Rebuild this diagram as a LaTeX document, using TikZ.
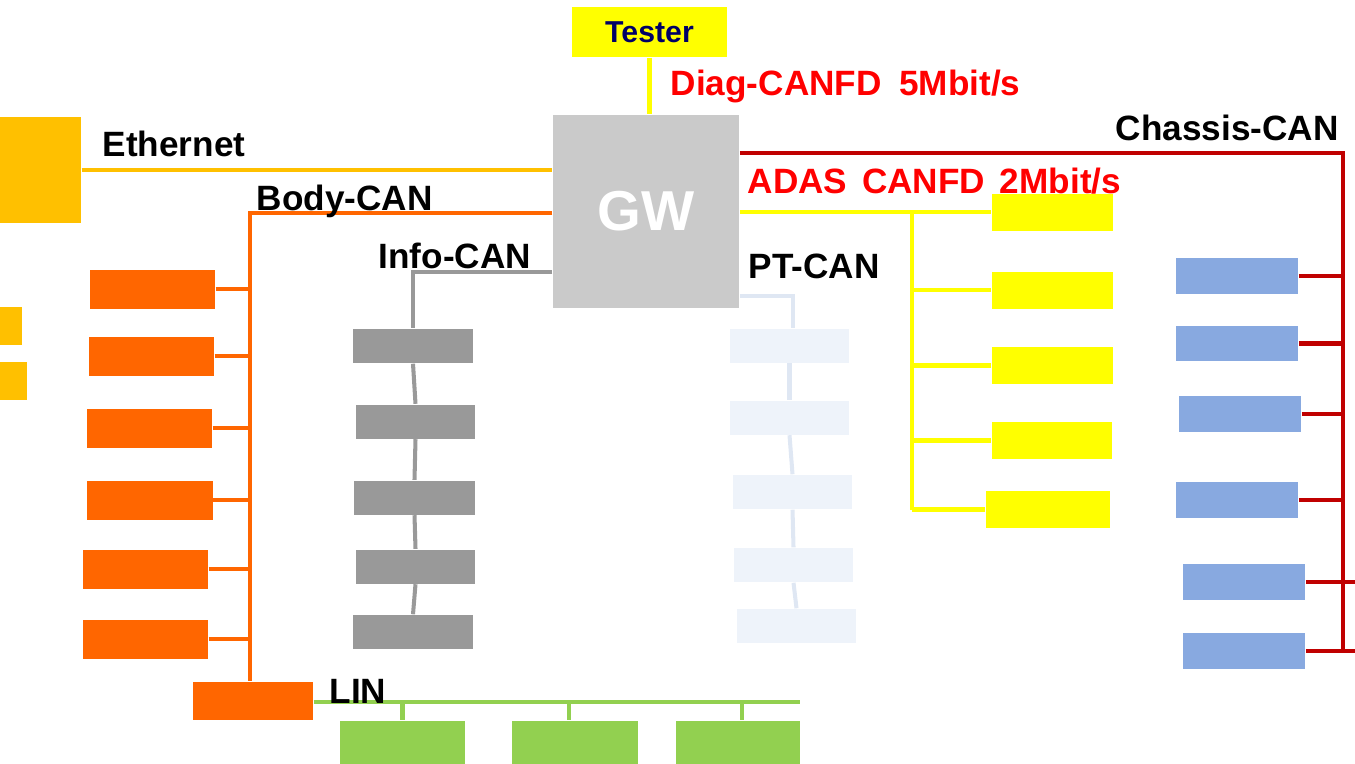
\documentclass[tikz,border=0pt]{standalone}
\usepackage{fontspec}
\setmainfont{Liberation Sans}
\usepackage{tikz}
\usetikzlibrary{positioning,calc}
\definecolor{ethC}{HTML}{FFC000}
\definecolor{bodyC}{HTML}{FF6600}
\definecolor{infoC}{HTML}{999999}
\definecolor{gwC}{HTML}{CACACA}
\definecolor{ptC}{HTML}{EEF3FA}
\definecolor{ptLine}{HTML}{DFE7F3}
\definecolor{adasC}{HTML}{FFFF00}
\definecolor{chasC}{HTML}{C00000}
\definecolor{chasBox}{HTML}{88A9E0}
\definecolor{linC}{HTML}{92D050}
\definecolor{rateC}{HTML}{FF0000}
\definecolor{testerC}{HTML}{000066}

\begin{document}
\begin{tikzpicture}[
  x=0.01cm, y=-0.01cm,
  ecu/.style={inner sep=0pt,minimum width=1.22cm,minimum height=0.37cm},
  body/.style={ecu,fill=bodyC,minimum width=1.25cm,minimum height=0.39cm},
  info/.style={ecu,fill=infoC,minimum width=1.2cm,minimum height=0.34cm},
  pt/.style={ecu,fill=ptC,minimum width=1.19cm,minimum height=0.34cm},
  adas/.style={ecu,fill=adasC,minimum width=1.21cm,minimum height=0.37cm},
  chas/.style={ecu,fill=chasBox,minimum width=1.22cm,minimum height=0.355cm},
  linbox/.style={ecu,fill=linC,minimum width=1.25cm,minimum height=0.5cm},
  lbl/.style={font=\bfseries\fontsize{10}{12}\selectfont,inner sep=0pt,anchor=base west},
  bus/.style={line width=1.15pt},
]
\useasboundingbox (0,0) rectangle (1355,763);
% gateway and tester
\node[fill=gwC,inner sep=0pt,minimum width=1.86cm,minimum height=1.93cm,
      text=white,font=\bfseries\fontsize{16}{18}\selectfont] (gw) at (646,211.5) {GW};
\node[fill=adasC,inner sep=0pt,minimum width=1.55cm,minimum height=0.5cm,
      text=testerC,font=\bfseries\fontsize{8.6}{10}\selectfont] (tester) at (649.5,32) {Tester};
\draw[bus,adasC] (tester.south) -- (tester.south |- gw.north);
% ethernet
\node[fill=ethC,inner sep=0pt,minimum width=0.81cm,minimum height=1.06cm] (eth) at (40.5,170) {};
\node[fill=ethC,inner sep=0pt,minimum width=0.22cm,minimum height=0.38cm] (ethA) at (11,326) {};
\node[fill=ethC,inner sep=0pt,minimum width=0.27cm,minimum height=0.38cm] (ethB) at (13.5,381) {};
\draw[bus,ethC] (eth.east) -- (eth.east -| gw.west);
% body-CAN
\node[body] (body1) at (152.5,289) {};
\node[body] (body2) at (151.5,356) {};
\node[body] (body3) at (149.5,428) {};
\node[body] (body4) at (150,500) {};
\node[body] (body5) at (145.5,569) {};
\node[body] (body6) at (145.5,639) {};
\node[body,minimum width=1.2cm,minimum height=0.38cm] (lin) at (253,701) {};
\coordinate (bodyTop) at (250,213);
\draw[bus,bodyC] (gw.west |- bodyTop) -- (bodyTop) -- (bodyTop |- lin.north);
\foreach \n in {1,...,6}
  \draw[bus,bodyC] (body\n.east) -- (body\n.east -| bodyTop);
% LIN
\node[linbox] (linA) at (402.5,746) {};
\node[linbox,minimum width=1.26cm] (linB) at (575,746) {};
\node[linbox,minimum width=1.24cm] (linC) at (738,746) {};
\coordinate (linEnd) at (800,702);
\draw[line width=1.4pt,linC] (lin.east |- linEnd) -- (linEnd);
\draw[bus,linC] (linA.north |- linEnd) -- (linA.north);
\draw[bus,linC] ([xshift=-0.06cm]linB.north |- linEnd) -- ([xshift=-0.06cm]linB.north);
\draw[bus,linC] ([xshift=0.04cm]linC.north |- linEnd) -- ([xshift=0.04cm]linC.north);
% info-CAN
\node[info] (info1) at (413,346) {};
\node[info,minimum width=1.19cm] (info2) at (415.5,421.5) {};
\node[info,minimum width=1.21cm] (info3) at (414.5,497.5) {};
\node[info,minimum width=1.19cm] (info4) at (415.5,566.5) {};
\node[info] (info5) at (413,632) {};
\coordinate (infoTop) at (413,272);
\draw[bus,infoC] (gw.west |- infoTop) -- (infoTop) -- (info1.north);
\foreach \a/\b in {1/2,2/3,3/4,4/5}
  \draw[bus,infoC] (info\a.south) -- (info\b.north);
% PT-CAN
\node[pt] (pt1) at (789.5,345.5) {};
\node[pt] (pt2) at (789.5,417.5) {};
\node[pt] (pt3) at (792.5,492) {};
\node[pt] (pt4) at (793.5,565) {};
\node[pt] (pt5) at (796.5,626) {};
\coordinate (ptTop) at (793,296);
\draw[bus,ptLine] (gw.east |- ptTop) -- (ptTop) -- (ptTop |- pt1.north);
\foreach \a/\b in {1/2,2/3,3/4,4/5}
  \draw[bus,ptLine] (pt\a.south) -- (pt\b.north);
% ADAS CANFD
\node[adas] (adas1) at (1052.5,212) {};
\node[adas] (adas2) at (1052.5,290) {};
\node[adas] (adas3) at (1052.5,365.5) {};
\node[adas,minimum width=1.2cm] (adas4) at (1052,440.5) {};
\node[adas,minimum width=1.24cm] (adas5) at (1048,509.5) {};
\coordinate (adasBus) at (912,212);
\draw[bus,adasC] (gw.east |- adas1) -- (adas1.west);
\draw[bus,adasC] (adasBus) -- (adasBus |- adas5);
\foreach \n in {2,...,5}
  \draw[bus,adasC] (adasBus |- adas\n) -- (adas\n.west);
% chassis-CAN
\node[chas] (chas1) at (1237,276) {};
\node[chas] (chas2) at (1237,343.5) {};
\node[chas] (chas3) at (1240,414) {};
\node[chas] (chas4) at (1237,500) {};
\node[chas] (chas5) at (1244,582) {};
\node[chas] (chas6) at (1244,651) {};
\coordinate (chasTop) at (1343,153);
\draw[line width=1.4pt,chasC] (chasTop -| gw.east) -- (chasTop) -- (chasTop |- chas6);
\foreach \n in {1,...,4}
  \draw[line width=1.4pt,chasC] (chas\n.east) -- (chas\n.east -| chasTop);
\draw[line width=1.4pt,chasC] (chas5.east) -- ++(70,0);
\draw[line width=1.4pt,chasC] (chas6.east) -- ++(70,0);
% bus labels
\node[lbl] (lEth) at (102,156) {Ethernet};
\node[lbl] (lBody) at (256,210) {Body-CAN};
\node[lbl] (lInfo) at (378,268) {Info-CAN};
\node[lbl] (lPT) at (748,278) {PT-CAN};
\node[lbl] (lLIN) at (329,703) {LIN};
\node[lbl] (lChas) at (1115,140) {Chassis-CAN};
\node[lbl,text=rateC] (lDiag) at (670,95) {Diag-CANFD\hspace{0.5em}5Mbit/s};
\node[lbl,text=rateC] (lAdas) at (747,193) {ADAS\hspace{0.42em}CANFD\hspace{0.42em}2Mbit/s};
\end{tikzpicture}
\end{document}
